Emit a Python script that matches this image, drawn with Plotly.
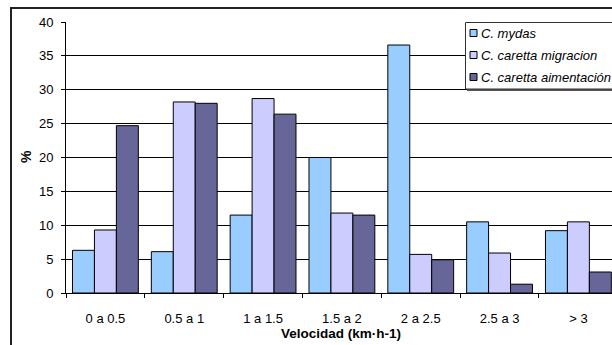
import plotly.graph_objects as go

# Speed classes and percentage of time spent in each class
categories = ["0 a 0.5", "0.5 a 1", "1 a 1.5", "1.5 a 2", "2 a 2.5", "2.5 a 3", "> 3"]
series_names = ["C. mydas", "C. caretta migracion", "C. caretta aimentación"]
mydas = [6.3, 6.1, 11.5, 20.0, 36.6, 10.5, 9.2]
caretta_migracion = [9.3, 28.2, 28.7, 11.8, 5.7, 5.9, 10.5]
caretta_alimentacion = [24.7, 28.0, 26.4, 11.5, 4.9, 1.3, 3.1]
y_ticks = [0, 5, 10, 15, 20, 25, 30, 35, 40]

colors = ["#99CCFF", "#CCCCFF", "#666699"]
FONT = "Liberation Sans, Arial, sans-serif"

W, H = 612, 345
L, R, T, B = 66, 0, 22, 52
PW, PH = W - L - R, H - T - B


def px(x):
    return (x - L) / PW


def py(y):
    return (H - B - y) / PH


fig = go.Figure()
for name, vals, col in zip(series_names, [mydas, caretta_migracion, caretta_alimentacion], colors):
    fig.add_trace(go.Bar(
        x=categories, y=vals, name=name,
        marker=dict(color=col, line=dict(color="#000000", width=1)),
        showlegend=False,
    ))

# category width in pixels -> last category is cut at the right edge
cat_px = 78.83
x_max = -0.5 + PW / cat_px

shapes = [
    # outer chart frame (left and top edges; the rest lies outside the page)
    dict(type="line", xref="paper", yref="paper",
         x0=px(11), x1=px(11), y0=py(346), y1=py(7),
         line=dict(color="#222222", width=2), layer="above"),
    dict(type="line", xref="paper", yref="paper",
         x0=px(10), x1=px(613), y0=py(8), y1=py(8),
         line=dict(color="#222222", width=2), layer="above"),
    # legend shadow and box
    dict(type="rect", xref="paper", yref="paper",
         x0=px(467), x1=px(660), y0=py(91), y1=py(24),
         line=dict(width=0), fillcolor="#555555", layer="above"),
    dict(type="rect", xref="paper", yref="paper",
         x0=px(465.5), x1=px(660), y0=py(89), y1=py(22.5),
         line=dict(color="#333333", width=1), fillcolor="#FFFFFF", layer="above"),
]
annotations = []
for i, (name, col) in enumerate(zip(series_names, colors)):
    cy = 33 + 22 * i
    shapes.append(dict(type="rect", xref="paper", yref="paper",
                       x0=px(470), x1=px(477), y0=py(cy + 3.5), y1=py(cy - 3.5),
                       line=dict(color="#000000", width=1), fillcolor=col, layer="above"))
    annotations.append(dict(xref="paper", yref="paper", x=px(479), y=py(cy),
                            xanchor="left", yanchor="middle", showarrow=False,
                            text=name, font=dict(family=FONT, size=13, color="#000000", style="italic")))

annotations.append(dict(xref="paper", yref="paper", x=px(341), y=py(333),
                        xanchor="center", yanchor="middle", showarrow=False,
                        text="Velocidad (km·h-1)",
                        font=dict(family=FONT, size=13.5, color="#000000", weight="bold")))
annotations.append(dict(xref="paper", yref="paper", x=px(26), y=py(157),
                        xanchor="center", yanchor="middle", showarrow=False, textangle=-90,
                        text="%", font=dict(family=FONT, size=14, color="#000000", weight="bold")))

fig.update_layout(
    width=W, height=H,
    margin=dict(l=L, r=R, t=T, b=B, pad=0),
    paper_bgcolor="#FFFFFF", plot_bgcolor="#FFFFFF",
    barmode="group", bargap=0.165, bargroupgap=0,
    font=dict(family=FONT, size=13, color="#000000"),
    shapes=shapes, annotations=annotations,
    xaxis=dict(
        type="category", range=[-0.5, x_max],
        showline=True, linecolor="#000000", linewidth=1,
        ticks="outside", tickson="boundaries", ticklen=4, tickcolor="#000000",
        showgrid=False, tickfont=dict(size=13), ticklabelstandoff=13,
    ),
    yaxis=dict(
        range=[0, 40], tickvals=y_ticks,
        showline=True, linecolor="#000000", linewidth=1,
        ticks="outside", ticklen=4, tickcolor="#000000",
        showgrid=True, gridcolor="#000000", gridwidth=1, zeroline=False,
        tickfont=dict(size=13), ticklabelstandoff=5,
    ),
)

fig.write_html("out.html")
